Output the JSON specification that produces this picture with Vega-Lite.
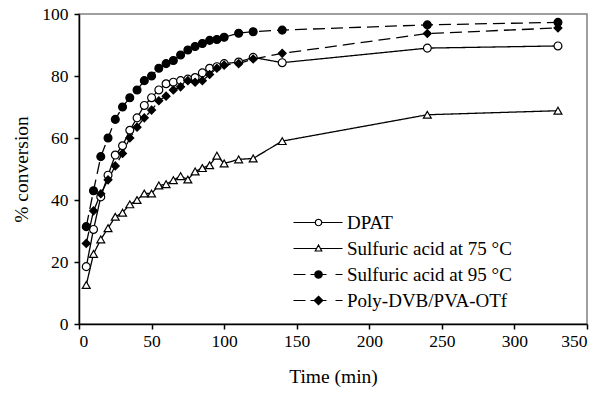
{
  "$schema": "https://vega.github.io/schema/vega-lite/v6.json",
  "width": 508,
  "height": 310,
  "autosize": "none",
  "padding": {"left": 79, "top": 14, "right": 16, "bottom": 69},
  "background": "white",
  "config": {
    "font": "Liberation Serif",
    "view": {"stroke": "#808080", "strokeWidth": 1.5},
    "axis": {"grid": false, "domainColor": "black", "domainWidth": 1.5, "tickColor": "black", "tickWidth": 1.5, "tickSize": 5, "labelFont": "Liberation Serif", "labelFontSize": 17.5, "labelColor": "black", "titleFont": "Liberation Serif", "titleFontSize": 19.5, "titleFontWeight": "normal", "titleColor": "black"}
  },
  "datasets": {
    "main": [
      {"s": "DPAT", "t": 5, "c": 18.5}, {"s": "DPAT", "t": 10, "c": 30.5}, {"s": "DPAT", "t": 15, "c": 41}, {"s": "DPAT", "t": 20, "c": 48}, {"s": "DPAT", "t": 25, "c": 54.5}, {"s": "DPAT", "t": 30, "c": 57.5}, {"s": "DPAT", "t": 35, "c": 62.5}, {"s": "DPAT", "t": 40, "c": 66.5}, {"s": "DPAT", "t": 45, "c": 70.5}, {"s": "DPAT", "t": 50, "c": 73}, {"s": "DPAT", "t": 55, "c": 75.5}, {"s": "DPAT", "t": 60, "c": 77.5}, {"s": "DPAT", "t": 65, "c": 78}, {"s": "DPAT", "t": 70, "c": 78.5}, {"s": "DPAT", "t": 75, "c": 79}, {"s": "DPAT", "t": 80, "c": 79.5}, {"s": "DPAT", "t": 85, "c": 81}, {"s": "DPAT", "t": 90, "c": 82.5}, {"s": "DPAT", "t": 95, "c": 83}, {"s": "DPAT", "t": 100, "c": 84}, {"s": "DPAT", "t": 110, "c": 84.5}, {"s": "DPAT", "t": 120, "c": 86}, {"s": "DPAT", "t": 140, "c": 84.3}, {"s": "DPAT", "t": 240, "c": 89}, {"s": "DPAT", "t": 330, "c": 89.7},
      {"s": "Sulfuric acid at 75 °C", "t": 5, "c": 12.6}, {"s": "Sulfuric acid at 75 °C", "t": 10, "c": 22.6}, {"s": "Sulfuric acid at 75 °C", "t": 15, "c": 27.3}, {"s": "Sulfuric acid at 75 °C", "t": 20, "c": 30.9}, {"s": "Sulfuric acid at 75 °C", "t": 25, "c": 34.6}, {"s": "Sulfuric acid at 75 °C", "t": 30, "c": 35.9}, {"s": "Sulfuric acid at 75 °C", "t": 35, "c": 38.6}, {"s": "Sulfuric acid at 75 °C", "t": 40, "c": 40}, {"s": "Sulfuric acid at 75 °C", "t": 45, "c": 42.1}, {"s": "Sulfuric acid at 75 °C", "t": 50, "c": 42.1}, {"s": "Sulfuric acid at 75 °C", "t": 55, "c": 44.7}, {"s": "Sulfuric acid at 75 °C", "t": 60, "c": 45.1}, {"s": "Sulfuric acid at 75 °C", "t": 65, "c": 46.4}, {"s": "Sulfuric acid at 75 °C", "t": 70, "c": 47.7}, {"s": "Sulfuric acid at 75 °C", "t": 75, "c": 46.6}, {"s": "Sulfuric acid at 75 °C", "t": 80, "c": 49.2}, {"s": "Sulfuric acid at 75 °C", "t": 85, "c": 50.3}, {"s": "Sulfuric acid at 75 °C", "t": 90, "c": 51.2}, {"s": "Sulfuric acid at 75 °C", "t": 95, "c": 54.3}, {"s": "Sulfuric acid at 75 °C", "t": 100, "c": 51.8}, {"s": "Sulfuric acid at 75 °C", "t": 110, "c": 53.1}, {"s": "Sulfuric acid at 75 °C", "t": 120, "c": 53.4}, {"s": "Sulfuric acid at 75 °C", "t": 140, "c": 59}, {"s": "Sulfuric acid at 75 °C", "t": 240, "c": 67.5}, {"s": "Sulfuric acid at 75 °C", "t": 330, "c": 68.8},
      {"s": "Sulfuric acid at 95 °C", "t": 5, "c": 31.4}, {"s": "Sulfuric acid at 95 °C", "t": 10, "c": 43}, {"s": "Sulfuric acid at 95 °C", "t": 15, "c": 54}, {"s": "Sulfuric acid at 95 °C", "t": 20, "c": 60}, {"s": "Sulfuric acid at 95 °C", "t": 25, "c": 66}, {"s": "Sulfuric acid at 95 °C", "t": 30, "c": 70}, {"s": "Sulfuric acid at 95 °C", "t": 35, "c": 73}, {"s": "Sulfuric acid at 95 °C", "t": 40, "c": 75.5}, {"s": "Sulfuric acid at 95 °C", "t": 45, "c": 78.5}, {"s": "Sulfuric acid at 95 °C", "t": 50, "c": 80}, {"s": "Sulfuric acid at 95 °C", "t": 55, "c": 82.5}, {"s": "Sulfuric acid at 95 °C", "t": 60, "c": 84}, {"s": "Sulfuric acid at 95 °C", "t": 65, "c": 85}, {"s": "Sulfuric acid at 95 °C", "t": 70, "c": 86.8}, {"s": "Sulfuric acid at 95 °C", "t": 75, "c": 88.4}, {"s": "Sulfuric acid at 95 °C", "t": 80, "c": 89.5}, {"s": "Sulfuric acid at 95 °C", "t": 85, "c": 90.5}, {"s": "Sulfuric acid at 95 °C", "t": 90, "c": 91.5}, {"s": "Sulfuric acid at 95 °C", "t": 95, "c": 91.8}, {"s": "Sulfuric acid at 95 °C", "t": 100, "c": 92.5}, {"s": "Sulfuric acid at 95 °C", "t": 110, "c": 93.8}, {"s": "Sulfuric acid at 95 °C", "t": 120, "c": 94.3}, {"s": "Sulfuric acid at 95 °C", "t": 140, "c": 94.8}, {"s": "Sulfuric acid at 95 °C", "t": 240, "c": 96.5}, {"s": "Sulfuric acid at 95 °C", "t": 330, "c": 97.3},
      {"s": "Poly-DVB/PVA-OTf", "t": 5, "c": 26}, {"s": "Poly-DVB/PVA-OTf", "t": 10, "c": 36.5}, {"s": "Poly-DVB/PVA-OTf", "t": 15, "c": 42}, {"s": "Poly-DVB/PVA-OTf", "t": 20, "c": 46.5}, {"s": "Poly-DVB/PVA-OTf", "t": 25, "c": 51}, {"s": "Poly-DVB/PVA-OTf", "t": 30, "c": 55}, {"s": "Poly-DVB/PVA-OTf", "t": 35, "c": 60}, {"s": "Poly-DVB/PVA-OTf", "t": 40, "c": 63.5}, {"s": "Poly-DVB/PVA-OTf", "t": 45, "c": 66.5}, {"s": "Poly-DVB/PVA-OTf", "t": 50, "c": 69}, {"s": "Poly-DVB/PVA-OTf", "t": 55, "c": 72}, {"s": "Poly-DVB/PVA-OTf", "t": 60, "c": 73.5}, {"s": "Poly-DVB/PVA-OTf", "t": 65, "c": 75.5}, {"s": "Poly-DVB/PVA-OTf", "t": 70, "c": 76.5}, {"s": "Poly-DVB/PVA-OTf", "t": 75, "c": 78.5}, {"s": "Poly-DVB/PVA-OTf", "t": 80, "c": 78}, {"s": "Poly-DVB/PVA-OTf", "t": 85, "c": 78.5}, {"s": "Poly-DVB/PVA-OTf", "t": 90, "c": 80.5}, {"s": "Poly-DVB/PVA-OTf", "t": 95, "c": 82.5}, {"s": "Poly-DVB/PVA-OTf", "t": 100, "c": 83.5}, {"s": "Poly-DVB/PVA-OTf", "t": 110, "c": 84}, {"s": "Poly-DVB/PVA-OTf", "t": 120, "c": 85.5}, {"s": "Poly-DVB/PVA-OTf", "t": 140, "c": 87.3}, {"s": "Poly-DVB/PVA-OTf", "t": 240, "c": 93.7}, {"s": "Poly-DVB/PVA-OTf", "t": 330, "c": 95.5}
    ]
  },
  "data": {"name": "main"},
  "encoding": {
    "x": {"field": "t", "type": "quantitative", "scale": {"domain": [0, 350], "nice": false}, "axis": {"values": [0, 50, 100, 150, 200, 250, 300, 350], "title": "Time (min)", "labelPadding": 3, "titlePadding": 18}},
    "y": {"field": "c", "type": "quantitative", "scale": {"domain": [0, 100], "nice": false}, "axis": {"values": [0, 20, 40, 60, 80, 100], "title": "% conversion", "labelPadding": 6, "titlePadding": 10}}
  },
  "layer": [
    {
      "mark": {"type": "line", "color": "black", "strokeWidth": 1.3},
      "encoding": {
        "strokeDash": {"field": "s", "type": "nominal", "scale": {"domain": ["DPAT", "Sulfuric acid at 75 °C", "Sulfuric acid at 95 °C", "Poly-DVB/PVA-OTf"], "range": [[1, 0], [1, 0], [12, 6], [12, 6]]}, "legend": null}
      }
    },
    {
      "mark": {"type": "point", "stroke": "black", "strokeWidth": 1.2, "size": 62, "opacity": 1},
      "encoding": {
        "shape": {"field": "s", "type": "nominal", "scale": {"domain": ["DPAT", "Sulfuric acid at 75 °C", "Sulfuric acid at 95 °C", "Poly-DVB/PVA-OTf"], "range": ["circle", "triangle-up", "circle", "diamond"]}, "legend": null},
        "fill": {"field": "s", "type": "nominal", "scale": {"domain": ["DPAT", "Sulfuric acid at 75 °C", "Sulfuric acid at 95 °C", "Poly-DVB/PVA-OTf"], "range": ["white", "white", "black", "black"]}, "legend": null}
      }
    },
    {
      "transform": [{"filter": "datum.t < 0"}],
      "mark": {"type": "point", "stroke": "black", "strokeWidth": 1.2, "size": 100},
      "encoding": {
        "shape": {"field": "s", "type": "nominal", "scale": {"domain": ["DPAT", "Sulfuric acid at 75 °C", "Sulfuric acid at 95 °C", "Poly-DVB/PVA-OTf"], "range": [
          "M-5,0H-0.65M0.65,0H4.8M0.65,0L0.563,0.325L0.325,0.563L0,0.65L-0.325,0.563L-0.563,0.325L-0.65,0L-0.563,-0.325L-0.325,-0.563L0,-0.65L0.325,-0.563L0.563,-0.325Z",
          "M-5,0H-0.38M0.38,0H4.8M0,-0.7L0.65,0.5L-0.65,0.5Z",
          "M-5,0H-2.6M-1.6,0H1.6M3.4,0H4.8M0.75,0L0.65,0.375L0.375,0.65L0,0.75L-0.375,0.65L-0.65,0.375L-0.75,0L-0.65,-0.375L-0.375,-0.65L0,-0.75L0.375,-0.65L0.65,-0.375Z",
          "M-5,0H-2.6M-1.6,0H1.6M3.4,0H4.8M0,-0.85L0.85,0L0,0.85L-0.85,0Z"
        ]}, "legend": {"orient": "none", "legendX": 230, "legendY": 199, "title": null, "symbolSize": 100, "symbolStrokeWidth": 1.2, "labelFont": "Liberation Serif", "labelFontSize": 19, "labelColor": "black", "labelLimit": 400, "labelOffset": 19, "rowPadding": 6, "padding": 0, "symbolOpacity": 1}},
        "fill": {"field": "s", "type": "nominal", "scale": {"domain": ["DPAT", "Sulfuric acid at 75 °C", "Sulfuric acid at 95 °C", "Poly-DVB/PVA-OTf"], "range": ["white", "white", "black", "black"]}, "legend": {"orient": "none", "legendX": 230, "legendY": 199, "title": null, "symbolSize": 100, "symbolStrokeWidth": 1.2, "labelFont": "Liberation Serif", "labelFontSize": 19, "labelColor": "black", "labelLimit": 400, "labelOffset": 19, "rowPadding": 6, "padding": 0, "symbolOpacity": 1}}
      }
    }
  ],
  "resolve": {"scale": {"shape": "independent", "fill": "independent"}}
}
